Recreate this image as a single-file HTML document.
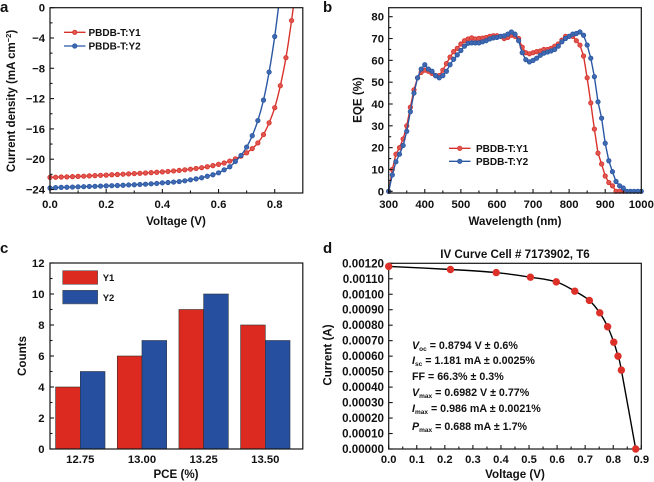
<!DOCTYPE html>
<html lang="en">
<head>
<meta charset="utf-8">
<title>Solar cell performance panels</title>
<style>
html,body{margin:0;padding:0;background:#fff;width:654px;height:482px;overflow:hidden}
svg{display:block;filter:blur(0.3px)}
text{font-family:"Liberation Sans",Arial,sans-serif;font-weight:bold;fill:#111}
</style>
</head>
<body>
<svg id="fig" xmlns="http://www.w3.org/2000/svg" width="654" height="482" viewBox="0 0 654 482">
  <defs>
    <clipPath id="clip-a"><rect x="50" y="7.7" width="252.8" height="185.3"/></clipPath>
    <clipPath id="clip-b"><rect x="388.7" y="7.7" width="252.6" height="185.3"/></clipPath>
  </defs>
  <text x="0" y="12" font-size="15">a</text>
  <text x="323" y="12" font-size="15">b</text>
  <text x="0" y="253" font-size="15">c</text>
  <text x="323" y="253" font-size="15">d</text>

  <text transform="translate(15,101) rotate(-90)" text-anchor="middle" font-size="11.5">Current density (mA cm<tspan dy="-4" font-size="7.5">−2</tspan><tspan dy="4">)</tspan></text>
  <text x="176" y="225" text-anchor="middle" font-size="11.6">Voltage (V)</text>
  <text transform="translate(361.5,100) rotate(-90)" text-anchor="middle" font-size="11.6">EQE (%)</text>
  <text x="515" y="225" text-anchor="middle" font-size="11.6">Wavelength (nm)</text>
  <text transform="translate(26,356) rotate(-90)" text-anchor="middle" font-size="11.6">Counts</text>
  <text x="176" y="478" text-anchor="middle" font-size="11.6">PCE (%)</text>
  <text transform="translate(331.5,355) rotate(-90)" text-anchor="middle" font-size="11.6">Current (A)</text>
  <text x="515" y="478" text-anchor="middle" font-size="11.6">Voltage (V)</text>
  <text x="515" y="258" text-anchor="middle" font-size="11.6">IV Curve Cell # 7173902, T6</text>

  <g id="layer-a"></g>
  <g id="layer-b"></g>
  <g id="layer-c"></g>
  <g id="layer-d"></g>

  <g font-size="10.7">
    <text x="412" y="349"><tspan font-style="italic">V</tspan><tspan font-size="6.5" dy="2">oc</tspan><tspan dy="-2"> = 0.8794 V ± 0.6%</tspan></text>
    <text x="412" y="364"><tspan font-style="italic">I</tspan><tspan font-size="6.5" dy="2">sc</tspan><tspan dy="-2"> = 1.181 mA ± 0.0025%</tspan></text>
    <text x="412" y="380">FF = 66.3% ± 0.3%</text>
    <text x="412" y="396"><tspan font-style="italic">V</tspan><tspan font-size="6.5" dy="2">max</tspan><tspan dy="-2"> = 0.6982 V ± 0.77%</tspan></text>
    <text x="412" y="412"><tspan font-style="italic">I</tspan><tspan font-size="6.5" dy="2">max</tspan><tspan dy="-2"> = 0.986 mA ± 0.0021%</tspan></text>
    <text x="412" y="430"><tspan font-style="italic">P</tspan><tspan font-size="6.5" dy="2">max</tspan><tspan dy="-2"> = 0.688 mA ± 1.7%</tspan></text>
  </g>
</svg>
<script>
// Panel a: J-V curves
const jvVoltage = [0,0.02,0.04,0.06,0.08,0.1,0.12,0.14,0.16,0.18,0.2,0.22,0.24,0.26,0.28,0.3,0.32,0.34,0.36,0.38,0.4,0.42,0.44,0.46,0.48,0.5,0.52,0.54,0.56,0.58,0.6,0.62,0.64,0.66,0.68,0.7,0.72,0.74,0.76,0.78,0.8,0.82,0.84,0.86,0.88];
const jvY1 = [-22.4,-22.38,-22.35,-22.33,-22.3,-22.27,-22.24,-22.2,-22.17,-22.13,-22.1,-22.05,-22.02,-21.98,-21.94,-21.9,-21.86,-21.82,-21.77,-21.72,-21.67,-21.62,-21.55,-21.48,-21.4,-21.32,-21.22,-21.12,-21,-20.85,-20.68,-20.5,-20.25,-19.95,-19.6,-19.15,-18.6,-17.85,-16.75,-15.2,-13.2,-10.3,-6.6,-1.7,4];
const jvY2 = [-23.8,-23.75,-23.72,-23.7,-23.68,-23.65,-23.63,-23.6,-23.58,-23.55,-23.52,-23.5,-23.47,-23.44,-23.4,-23.37,-23.33,-23.3,-23.25,-23.2,-23.12,-23.08,-23.02,-22.95,-22.85,-22.72,-22.6,-22.45,-22.25,-22.05,-21.8,-21.4,-21,-20.3,-19.5,-18.4,-16.9,-14.9,-12.2,-8.5,-3.8,2];
const jvXTicks = [0,0.2,0.4,0.6,0.8];
const jvYTicks = [0,-4,-8,-12,-16,-20,-24];
// Panel b: EQE spectra
const eqeY1Wave = [300,310,320,330,340,350,360,370,380,390,400,410,420,430,440,450,460,470,480,490,500,510,520,530,540,550,560,570,580,590,600,610,620,630,640,650,660,670,680,690,700,710,720,730,740,750,760,770,780,790,800,810,820,830,840,850,860,870,880,890,900,910,920,930,940,950];
const eqeY1 = [0,10,17,20,24,30,38.5,46.5,52,54.5,55.5,55,54,53,53,55.5,58.5,61.5,64,65.5,67.5,69,69.8,70.3,69.8,70,70.2,70.5,71,71.3,71.3,71,70,70.5,71.5,71,70,66,63.5,63,63.5,64,64.3,65,65,65.5,66.5,67.5,69.3,71,71,71,69,67,62,52,40.5,28.5,17.5,12.5,7,4,2.5,0,0,0];
const eqeY2Wave = [300,310,320,330,340,350,360,370,380,390,400,410,420,430,440,450,460,470,480,490,500,510,520,530,540,550,560,570,580,590,600,610,620,630,640,650,660,670,680,690,700,710,720,730,740,750,760,770,780,790,800,810,820,830,840,850,860,870,880,890,900,910,920,930,940,950,960,970,980,990,1000];
const eqeY2 = [0,7.5,13.5,17,21,27.5,36.5,45,52,56,58,56,55,53,52,53,55,58,60.5,62.5,64.5,66.5,67.8,68,68,68,68.5,69,69.8,70.3,70.5,71,71.2,72,73,72,69,63.5,60.3,59.3,60,61,62.3,63.3,63.8,64.3,65,66.5,68.5,70,71,72,72.3,73,71.5,67,61,52.5,41,33.5,22,14,9,4.5,2.5,1.5,0,0,0,0,0];
const eqeXTicks = [300,400,500,600,700,800,900,1000];
const eqeYTicks = [0,10,20,30,40,50,60,70,80];
// Panel c: histogram
const pceCategories = ["12.75","13.00","13.25","13.50"];
const countsY1 = [4,6,9,8];
const countsY2 = [5,7,10,7];
const countTicks = [0,2,4,6,8,10,12];
// Panel d: IV curve
const ivVoltage = [0,0.22,0.383,0.505,0.597,0.663,0.715,0.752,0.78,0.802,0.817,0.829,0.88];
const ivCurrent = [0.00118,0.00116,0.00114,0.00111,0.00108,0.00102,0.00096,0.00088,0.00079,0.00069,0.0006,0.00051,0];
const ivXTicks = [0,0.1,0.2,0.3,0.4,0.5,0.6,0.7,0.8,0.9];
const ivYTicks = [0,0.0001,0.0002,0.0003,0.0004,0.0005,0.0006,0.0007,0.0008,0.0009,0.001,0.0011,0.0012];

const NS = 'http://www.w3.org/2000/svg';
const INK = '#151515';
const RED = '#d8322c';
const BLUE = '#2a57a3';
const RED_FILL = '#e0554e';
const BLUE_FILL = '#3f69b0';

function make(tag, attrs, parent) {
  const el = document.createElementNS(NS, tag);
  for (const k in attrs) el.setAttribute(k, attrs[k]);
  parent.appendChild(el);
  return el;
}
function linear(d0, d1, r0, r1) {
  return v => r0 + (v - d0) * (r1 - r0) / (d1 - d0);
}
function smoothPath(p) {
  let d = 'M' + p[0][0].toFixed(2) + ' ' + p[0][1].toFixed(2);
  for (let i = 0; i < p.length - 1; i++) {
    const a = p[Math.max(i - 1, 0)], b = p[i], c = p[i + 1], e = p[Math.min(i + 2, p.length - 1)];
    const c1x = b[0] + (c[0] - a[0]) / 6, c1y = b[1] + (c[1] - a[1]) / 6;
    const c2x = c[0] - (e[0] - b[0]) / 6, c2y = c[1] - (e[1] - b[1]) / 6;
    d += 'C' + c1x.toFixed(2) + ' ' + c1y.toFixed(2) + ' ' + c2x.toFixed(2) + ' ' + c2y.toFixed(2) + ' ' + c[0].toFixed(2) + ' ' + c[1].toFixed(2);
  }
  return d;
}
function drawFrame(g, box) {
  const el = make('rect', {x: box.l, y: box.t, width: box.r - box.l, height: box.b - box.t, fill: 'none', stroke: INK, 'stroke-width': 1.2}, g);
  
  
}
function tickLine(g, x1, y1, x2, y2) {
  const el = make('line', {x1, y1, x2, y2, stroke: INK, 'stroke-width': 1.1}, g);
  
  
}
function tickLabel(g, x, y, str, anchor, size) {
  const el = make('text', {x, y, 'text-anchor': anchor, 'font-size': size}, g);
  el.textContent = str;
  
  
}
function xAxis(g, box, sx, ticks, fmt, minorStep, labelY, size) {
  ticks.forEach(t => {
    tickLine(g, sx(t), box.b, sx(t), box.b - 4);
    tickLabel(g, sx(t), labelY, fmt(t), 'middle', size);
  });
  for (let i = 0; i < ticks.length - 1; i++) {
    const m = (ticks[i] + ticks[i + 1]) / 2;
    tickLine(g, sx(m), box.b, sx(m), box.b - 2.5);
  }
  if (minorStep) {
    const last = ticks[ticks.length - 1] + minorStep;
    if (sx(last) < box.r) tickLine(g, sx(last), box.b, sx(last), box.b - 2.5);
  }
}
function yAxis(g, box, sy, ticks, fmt, minor, labelX, size) {
  ticks.forEach(t => {
    tickLine(g, box.l, sy(t), box.l + 4, sy(t));
    tickLabel(g, labelX, sy(t) + 4, fmt(t), 'end', size);
  });
  if (minor) {
    for (let i = 0; i < ticks.length - 1; i++) {
      const m = (ticks[i] + ticks[i + 1]) / 2;
      tickLine(g, box.l, sy(m), box.l + 2.5, sy(m));
    }
  }
}
function drawSeries(g, xs, ys, sx, sy, color, clipId, r, fillc, name, smooth) {
  const p = xs.map((x, i) => [sx(x), sy(ys[i])]);
  const d = smooth ? smoothPath(p) : 'M' + p.map(q => q[0].toFixed(2) + ' ' + q[1].toFixed(2)).join('L');
  const line = make('path', {d, fill: 'none', stroke: color, 'stroke-width': 1.4, 'clip-path': 'url(#' + clipId + ')'}, g);
  
  
  xs.forEach((x, i) => {
    const py = sy(ys[i]);
    if (py < 7) return;
    const c = make('circle', {cx: sx(x), cy: py, r, fill: fillc, stroke: color, 'stroke-width': 0.8}, g);
    
    
  });
}
function legendRow(g, x1, x2, y, color, fillc, label, tx) {
  const l = make('line', {x1, y1: y, x2, y2: y, stroke: color, 'stroke-width': 1.3}, g);
  
  
  const c = make('circle', {cx: (x1 + x2) / 2, cy: y, r: 2.2, fill: fillc, stroke: color, 'stroke-width': 0.8}, g);
  
  
  const t = make('text', {x: tx, y: y + 3.6, 'font-size': 10}, g);
  t.textContent = label;
  
  
}

/* Panel a */
(function () {
  const g = document.getElementById('layer-a');
  const box = {l: 50, r: 302.8, t: 7.7, b: 193};
  const sx = linear(0, 0.9, box.l, box.r);
  const sy = linear(0, -24, 7.7, 189.5);
  drawSeries(g, jvVoltage, jvY1, sx, sy, RED, 'clip-a', 2.2, RED_FILL, 'y1-jv', true);
  drawSeries(g, jvVoltage.slice(0, jvY2.length), jvY2, sx, sy, BLUE, 'clip-a', 2.2, BLUE_FILL, 'y2-jv', true);
  drawFrame(g, box);
  xAxis(g, box, sx, jvXTicks, v => v.toFixed(1), 0.1, 208, 11.3);
  yAxis(g, box, sy, jvYTicks, v => v === 0 ? '0' : '−' + Math.abs(v), true, 45, 11.3);
  legendRow(g, 64, 85.5, 32.3, RED, RED_FILL, 'PBDB-T:Y1', 88.5);
  legendRow(g, 64, 85.5, 46, BLUE, BLUE_FILL, 'PBDB-T:Y2', 88.5);
})();

/* Panel b */
(function () {
  const g = document.getElementById('layer-b');
  const box = {l: 388.7, r: 641.3, t: 7.7, b: 193};
  const sx = linear(300, 1000, box.l, box.r);
  const sy = linear(0, 80, 191.3, 16.7);
  drawSeries(g, eqeY1Wave, eqeY1, sx, sy, RED, 'clip-b', 2.2, RED_FILL, 'y1-eqe', false);
  drawSeries(g, eqeY2Wave, eqeY2, sx, sy, BLUE, 'clip-b', 2.2, BLUE_FILL, 'y2-eqe', false);
  drawFrame(g, box);
  xAxis(g, box, sx, eqeXTicks, v => String(v), 0, 208, 11.3);
  yAxis(g, box, sy, eqeYTicks, v => String(v), true, 384, 11.3);
  legendRow(g, 449, 470.5, 148.3, RED, RED_FILL, 'PBDB-T:Y1', 476);
  legendRow(g, 449, 470.5, 161.3, BLUE, BLUE_FILL, 'PBDB-T:Y2', 476);
})();

/* Panel c */
(function () {
  const g = document.getElementById('layer-c');
  const box = {l: 50, r: 302.8, t: 263, b: 449};
  const sy = linear(0, 12, box.b, box.t);
  const sx = i => 80.3 + i * 61.67;
  const bw = 24.7;
  pceCategories.forEach((cat, i) => {
    const r1 = make('rect', {x: sx(i) - bw, y: sy(countsY1[i]), width: bw, height: box.b - sy(countsY1[i]), fill: '#dc2a20', stroke: '#33302f', 'stroke-width': 0.6}, g);
    
    
    const r2 = make('rect', {x: sx(i), y: sy(countsY2[i]), width: bw, height: box.b - sy(countsY2[i]), fill: '#26509f', stroke: '#2a3340', 'stroke-width': 0.6}, g);
    
    
    tickLabel(g, sx(i), 463, cat, 'middle', 11.3);
  });
  drawFrame(g, box);
  yAxis(g, box, sy, countTicks, v => String(v), true, 44.5, 11.3);
  const k1 = make('rect', {x: 62.7, y: 270.7, width: 35, height: 13.6, fill: '#dc2a20', stroke: '#555', 'stroke-width': 0.6}, g);
  
  
  const k2 = make('rect', {x: 62.7, y: 290.3, width: 35, height: 13.6, fill: '#26509f', stroke: '#555', 'stroke-width': 0.6}, g);
  
  
  const t1 = make('text', {x: 102.7, y: 281, 'font-size': 9.5}, g);
  t1.textContent = 'Y1';
  
  
  const t2 = make('text', {x: 102.7, y: 301, 'font-size': 9.5}, g);
  t2.textContent = 'Y2';
  
  
})();

/* Panel d */
(function () {
  const g = document.getElementById('layer-d');
  const box = {l: 388.7, r: 641.3, t: 263.3, b: 449};
  const sx = linear(0, 0.9, box.l, box.r);
  const sy = linear(0, 0.0012, box.b, box.t);
  const p = ivVoltage.map((v, i) => [sx(v), sy(ivCurrent[i])]);
  const curve = make('path', {d: smoothPath(p), fill: 'none', stroke: '#000', 'stroke-width': 1.4}, g);
  
  
  drawFrame(g, box);
  xAxis(g, box, sx, ivXTicks, v => v.toFixed(1), 0, 463, 11.2);
  yAxis(g, box, sy, ivYTicks, v => v.toFixed(5), false, 384, 11.6);
  ivVoltage.forEach((v, i) => {
    const c = make('circle', {cx: sx(v), cy: sy(ivCurrent[i]), r: 3.7, fill: '#dc3029', stroke: 'none'}, g);
    
    
  });
})();
</script>
</body>
</html>
